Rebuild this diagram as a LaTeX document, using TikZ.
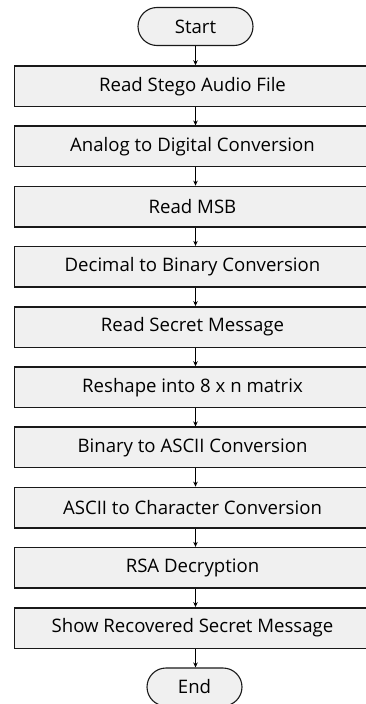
\documentclass[tikz,border=0pt]{standalone}
\usepackage{fontspec}
\setmainfont{Open Sans}
\usetikzlibrary{arrows.meta,shapes.misc}
\begin{document}
\begin{tikzpicture}[x=1pt,y=-1pt,
  procbox/.style={draw=black!90,line width=1.5pt,fill=black!6,rectangle,minimum width=356pt,minimum height=40.5pt,inner sep=0pt,font=\fontsize{18.6}{20}\selectfont},
  term/.style={draw=black!90,line width=1.1pt,fill=black!6,rounded rectangle,minimum height=38pt,inner sep=0pt,font=\fontsize{18.6}{20}\selectfont},
  flow/.style={-{Stealth[length=5pt,width=4.5pt]},line width=1pt}]
\useasboundingbox (0,0) rectangle (366,704);
\node[term,minimum width=115pt] (s) at (195.5,26.5) {Start};
\foreach \t [count=\i] in {Read Stego Audio File,Analog to Digital Conversion,Read MSB,Decimal to Binary Conversion,Read Secret Message,Reshape into 8 x n matrix,Binary to ASCII Conversion,ASCII to Character Conversion,RSA Decryption,Show Recovered Secret Message}
  \node[procbox] (b\i) at (192.5,{86.25+60.2*(\i-1)}) {\t};
\node[term,minimum width=95pt] (e) at (194.5,687) {End};
\draw[flow] (s.south -| s.south) -- (b1.north -| s.south);
\foreach \i [evaluate=\i as \j using int(\i+1)] in {1,...,9}
  \draw[flow] (b\i.south -| s.south) -- (b\j.north -| s.south);
\draw[flow] (b10.south -| s.south) -- (e.north -| s.south);
\end{tikzpicture}
\end{document}
